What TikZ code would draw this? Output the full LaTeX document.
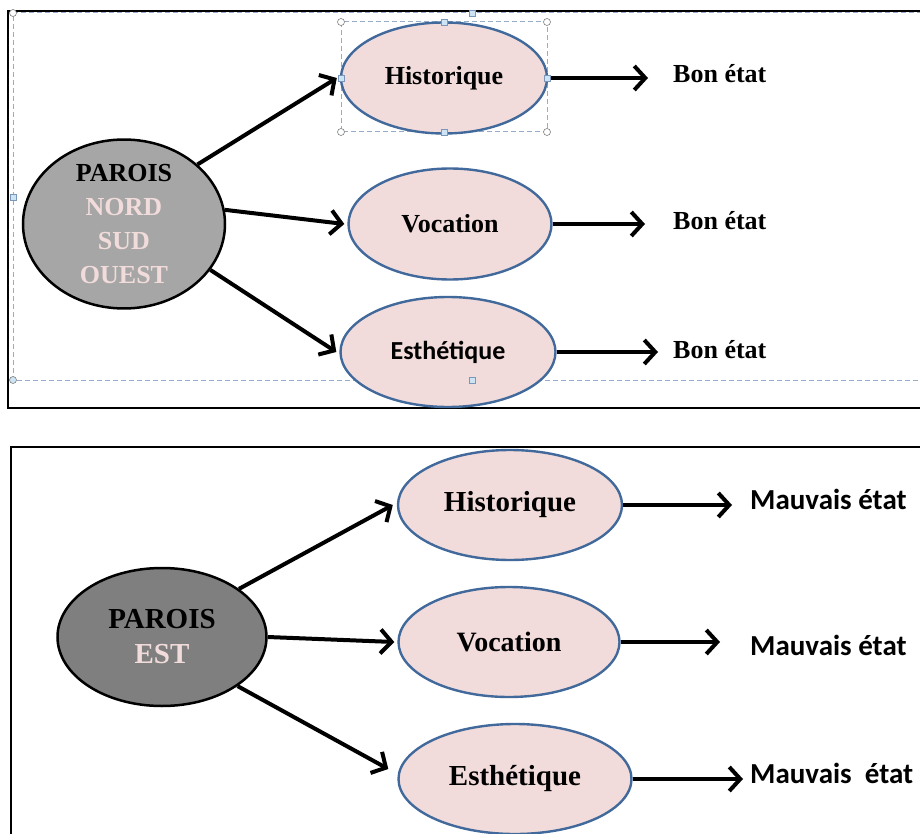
\documentclass[tikz,border=0pt]{standalone}
\usepackage{fontspec}
\setmainfont{Liberation Serif}
\newfontfamily\serifgras{Liberation Serif}
\newfontfamily\carlito{Carlito}
\usetikzlibrary{arrows.meta,shapes.geometric}
\definecolor{rose}{RGB}{242,220,219}
\definecolor{bordure}{RGB}{65,105,155}
\definecolor{gristop}{RGB}{166,166,166}
\definecolor{grisbas}{RGB}{127,127,127}
\definecolor{selection}{RGB}{150,172,200}
\definecolor{poignbleu}{RGB}{205,228,245}

\begin{document}
\begin{tikzpicture}[x=1pt,y=-1pt,
        critere/.style={ellipse,draw=bordure,line width=2.4pt,fill=rose,inner sep=0pt,font=\serifgras\bfseries\fontsize{26}{30}\selectfont},
        paroi/.style={ellipse,draw=black,line width=2.5pt,inner sep=0pt,align=center,font=\serifgras\bfseries\fontsize{26}{34}\selectfont},
        fleche/.style={line width=4pt,-{Straight Barb[length=11pt,width=24pt]}},
        etat/.style={anchor=base west,inner sep=0pt,font=\serifgras\bfseries\fontsize{26}{30}\selectfont},
        rond/.style={circle,draw=gray,fill=white,line width=0.6pt,inner sep=0pt,minimum size=7pt},
        carre/.style={rectangle,draw=bordure!70,fill=poignbleu,line width=0.6pt,inner sep=0pt,minimum size=6pt},
        cadresel/.style={draw=selection,line width=1pt,dash pattern=on 5pt off 3pt}]
    \useasboundingbox (0,0) rectangle (920,834);

    % panneau du haut
    \draw[line width=2pt] (922,11) -- (8,11) -- (8,408) -- (922,408);
    \draw[cadresel] (922,13) -- (13,13) -- (13,380) -- (922,380);
    \draw[cadresel] (341,22) rectangle (547,132);

    \node (p1) at (124,224) [paroi,fill=gristop,minimum width=202pt,minimum height=164pt]
        {PAROIS\\ \textcolor{rose}{NORD}\\ \textcolor{rose}{SUD}\\ \textcolor{rose}{OUEST}};
    \node (h1) at (444,78) [critere,minimum width=206pt,minimum height=111pt] {Historique};
    \node (v1) at (450,224) [critere,minimum width=203pt,minimum height=111pt] {Vocation};
    \node (e1) at (448,352) [critere,minimum width=215pt,minimum height=110pt,font=\carlito\bfseries\fontsize{26}{30}\selectfont] {Esthétique};

    \node (b1) at (673,83) [etat] {Bon état};
    \node (b2) at (673,230) [etat] {Bon état};
    \node (b3) at (673,358) [etat] {Bon état};

    \draw[fleche] (p1.39) -- ([xshift=-3pt]h1.west);
    \draw[fleche] (p1.8) -- ([xshift=-3pt]v1.west);
    \draw[fleche] (p1.-28) -- ([xshift=-3pt]e1.west);
    \draw[fleche,shorten >=25pt] (h1.east) -- (h1.east -| b1.west);
    \draw[fleche,shorten >=28pt] (v1.east) -- (v1.east -| b2.west);
    \draw[fleche,shorten >=15pt] (e1.east) -- (e1.east -| b3.west);

    % poignees de selection
    \foreach \px/\py [count=\i] in {341/22,547/22,341/132,547/132}
        \node (r\i) at (\px,\py) [rond] {};
    \foreach \px/\py [count=\i] in {444/22,444/132,341/78,547/78}
        \node (c\i) at (\px,\py) [carre] {};
    \node (r5) at (13,13) [rond] {};
    \node (r6) at (13,380) [rond,fill=poignbleu] {};
    \node (c5) at (13,197) [carre] {};
    \node (c6) at (472,13) [carre] {};
    \node (c7) at (472,380) [carre] {};

    % panneau du bas
    \draw[line width=2pt] (11,836) -- (11,447) -- (922,447);

    \node (p2) at (162,637) [paroi,fill=grisbas,minimum width=209pt,minimum height=138pt,font=\serifgras\bfseries\fontsize{29}{35}\selectfont]
        {PAROIS\\ \textcolor{rose}{EST}};
    \node (h2) at (510,505) [critere,minimum width=224pt,minimum height=110pt,font=\serifgras\bfseries\fontsize{29}{32}\selectfont] {Historique};
    \node (v2) at (509,642) [critere,minimum width=221pt,minimum height=110pt,font=\serifgras\bfseries\fontsize{28}{32}\selectfont] {Vocation};
    \node (e2) at (515,779) [critere,minimum width=233pt,minimum height=110pt,font=\serifgras\bfseries\fontsize{29}{32}\selectfont] {Esthétique};

    \node (m1) at (750,509) [etat,font=\carlito\bfseries\fontsize{29}{32}\selectfont] {Mauvais état};
    \node (m2) at (750,655) [etat,font=\carlito\bfseries\fontsize{29}{32}\selectfont] {Mauvais état};
    \node (m3) at (750,783) [etat,font=\carlito\bfseries\fontsize{29}{32}\selectfont] {Mauvais\ \ état};

    \draw[fleche] (p2.32) -- ([xshift=-4pt]h2.west);
    \draw[fleche] (p2.0) -- ([xshift=-3pt]v2.west);
    \draw[fleche] (p2.-33) -- ([xshift=-9pt,yshift=10pt]e2.west);
    \draw[fleche,shorten >=18pt] (h2.east) -- (h2.east -| m1.west);
    \draw[fleche,shorten >=30pt] (v2.east) -- (v2.east -| m2.west);
    \draw[fleche,shorten >=7pt] (e2.east) -- (e2.east -| m3.west);
\end{tikzpicture}
\end{document}
